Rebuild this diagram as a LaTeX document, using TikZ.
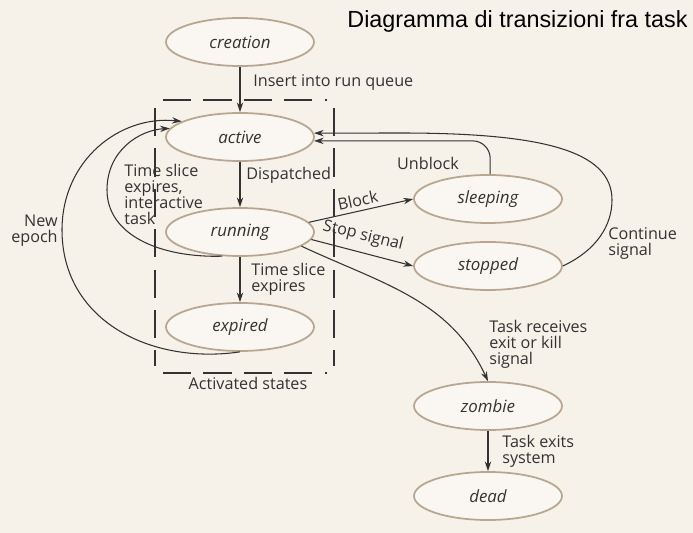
\documentclass[tikz,border=0pt]{standalone}
\usepackage{fontspec}
\setmainfont{Liberation Sans}
\newfontfamily\diafont{Open Sans}
\usetikzlibrary{shapes.geometric,arrows.meta}

\definecolor{paper}{HTML}{F6F1E9}
\definecolor{rim}{HTML}{B8A690}
\definecolor{cellfill}{HTML}{FAF7F2}
\definecolor{ink}{HTML}{333333}

\tikzset{
  state/.style={ellipse, draw=rim, line width=1pt, fill=cellfill,
    minimum width=2.96cm, minimum height=0.96cm, inner sep=0pt,
    font=\diafont\itshape\fontsize{9.6}{11}\selectfont, text=ink},
  lbl/.style={font=\diafont\fontsize{9.2}{9.1}\selectfont, text=ink,
    align=left, inner sep=0pt},
  trans/.style={draw=ink, line width=0.6pt, -{Stealth[length=5.5pt,width=3.6pt]}},
  region/.style={draw=ink, line width=0.7pt, dash pattern=on 16pt off 7pt}
}

\begin{document}
\begin{tikzpicture}[x=0.02cm, y=0.02cm]
\fill[paper] (0,0) rectangle (693,-533);
\useasboundingbox (0,0) rectangle (693,-533);

% title
\node[anchor=base east, inner sep=0pt, font=\fontsize{13.3}{15}\selectfont] (title) at (688,-28) {Diagramma di transizioni fra task};

% activated states box
\draw[region] (163,-100) -- (327,-100);
\draw[region] (163,-373) -- (327,-373);
\draw[region] (155,-108) -- (155,-366);
\draw[region] (334,-108) -- (334,-366);
\node[lbl] (regionlbl) at (248,-383) {Activated states};

% states
\node[state] (creation) at (240,-42) {creation};
\node[state] (active) at (240,-137) {active};
\node[state] (running) at (240,-232) {running};
\node[state] (expired) at (240,-327) {expired};
\node[state] (sleeping) at (488,-199) {sleeping};
\node[state] (stopped) at (488,-266) {stopped};
\node[state] (zombie) at (488,-406) {zombie};
\node[state] (dead) at (488,-496) {dead};

% transitions
\draw[trans] (creation) -- (active);
\draw[trans] (active) -- (running);
\draw[trans] (running) -- (expired);
\draw[trans] (zombie) -- (dead);
\draw[trans] (running.8) -- (sleeping.west);
\draw[trans] (running.-6) -- (stopped.west);
\draw[trans] (running.-13) to[out=-25,in=115] (zombie.north);
\draw[trans, rounded corners=10pt] (sleeping.85) |- (active.-3);
\draw[trans] (stopped.east) .. controls (597,-250) and (612,-225) .. (612,-200)
  .. controls (612,-150) and (540,-133) .. (400,-133) -- (active.3);
\draw[trans] (running.234) .. controls (160,-258) and (107,-235) .. (107,-190)
  .. controls (107,-150) and (140,-130) .. (active.173);
\draw[trans] (expired.south) .. controls (150,-365) and (62,-320) .. (62,-230)
  .. controls (62,-160) and (120,-115) .. (active.165);

% labels
\node[lbl, anchor=west] (insertlbl) at (253,-83) {Insert into run queue};
\node[lbl, anchor=west] (dispatchlbl) at (246,-175) {Dispatched};
\node[lbl, anchor=west] (expirelbl) at (251,-279) {Time slice\\expires};
\node[lbl, anchor=west] (interlbl) at (124,-194) {Time slice\\expires,\\interactive\\task};
\node[lbl, anchor=east, align=right] (epochlbl) at (58,-231) {New\\epoch};
\node[lbl, anchor=base, rotate=12] (blocklbl) at (359,-206) {Block};
\node[lbl, anchor=base, rotate=-14] (stoplbl) at (362,-240) {Stop signal};
\node[lbl] (unblocklbl) at (428,-163) {Unblock};
\node[lbl, anchor=west] (contlbl) at (608,-244) {Continue\\signal};
\node[lbl, anchor=west] (exitlbl) at (489,-344) {Task receives\\exit or kill\\signal};
\node[lbl, anchor=west] (syslbl) at (502,-451) {Task exits\\system};
\end{tikzpicture}
\end{document}
